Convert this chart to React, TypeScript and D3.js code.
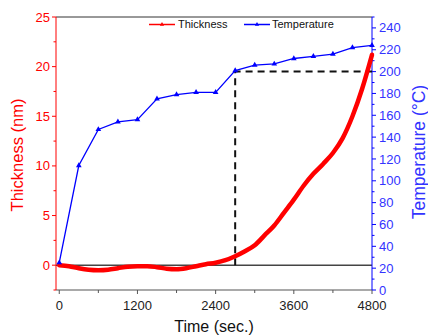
import React from "react";
import * as d3 from "d3";

// Film thickness measured over time (seconds)
const thicknessTimes = [
  0, 150, 300, 450, 600, 750, 900, 1050, 1200, 1350, 1500, 1650, 1800, 1950,
  2100, 2250, 2400, 2550, 2700, 2850, 3000, 3150, 3300, 3450, 3600, 3750,
  3900, 4050, 4200, 4350, 4500, 4650, 4800,
];
const thicknessValues = [
  0.0, -0.1, -0.3, -0.45, -0.5, -0.45, -0.3, -0.15, -0.1, -0.1, -0.2, -0.35,
  -0.4, -0.3, -0.1, 0.1, 0.25, 0.5, 0.9, 1.4, 2.0, 3.0, 4.0, 5.3, 6.6, 8.0,
  9.2, 10.2, 11.3, 12.8, 15.0, 17.8, 21.2,
];

// Substrate temperature readings (°C), one every 300 s
const temperatureTimes = [
  0, 300, 600, 900, 1200, 1500, 1800, 2100, 2400, 2700, 3000, 3300, 3600,
  3900, 4200, 4500, 4800,
];
const temperatureValues = [
  25, 114, 147, 154, 156, 175, 179, 181, 181, 201, 206, 207, 212, 214, 216,
  222, 224,
];

// Axis ticks
const timeTicks = [0, 1200, 2400, 3600, 4800];
const thicknessTicks = [0, 5, 10, 15, 20, 25];
const temperatureTicks = [0, 20, 40, 60, 80, 100, 120, 140, 160, 180, 200, 220, 240];

// Marker for the onset of growth
const markerTime = 2700;
const markerTemperature = 200;

const W = 428;
const H = 336;
const M = { left: 56, right: 372, top: 17, bottom: 290 };
const RED = "#ff0000";
const BLUE = "#0000ff";
const FONT = "'Liberation Sans', Arial, sans-serif";

export default function App() {
  const x = d3.scaleLinear().domain([-50, 4800]).range([M.left, M.right]);
  const yL = d3.scaleLinear().domain([-2.5, 25]).range([M.bottom, M.top]);
  const yR = d3.scaleLinear().domain([0, 250]).range([M.bottom, M.top]);

  const thickLine = d3
    .line<number>()
    .x((_, i) => x(thicknessTimes[i]))
    .y((d) => yL(d))
    .curve(d3.curveMonotoneX)(thicknessValues) as string;

  const tempLine = d3
    .line<number>()
    .x((_, i) => x(temperatureTimes[i]))
    .y((d) => yR(d))(temperatureValues) as string;

  const tri = d3.symbol(d3.symbolTriangle, 14)() as string;
  const triSmall = d3.symbol(d3.symbolTriangle, 8)() as string;

  const minorTime = d3.range(0, 4801, 600);
  const minorThick = d3.range(-2.5, 25.01, 2.5);
  const minorTemp = d3.range(0, 250.01, 10);

  return (
    <svg
      width={W}
      height={H}
      style={{ position: "absolute", left: 0, top: 0, background: "#fff" }}
      fontFamily={FONT}
    >
      {/* frame: top border and bottom axis */}
      <line x1={M.left} x2={M.right} y1={M.top} y2={M.top} stroke="#333" strokeWidth={1} />
      <line x1={M.left} x2={M.right} y1={M.bottom} y2={M.bottom} stroke="#555" strokeWidth={1.2} />
      {/* zero thickness baseline */}
      <line x1={M.left} x2={M.right} y1={yL(0)} y2={yL(0)} stroke="#444" strokeWidth={1.5} />

      {/* bottom ticks */}
      {minorTime.map((t) => (
        <line key={"bt" + t} x1={x(t)} x2={x(t)} y1={M.bottom} y2={M.bottom + (t % 1200 === 0 ? 4 : 3)} stroke="#555" strokeWidth={1} />
      ))}
      {timeTicks.map((t) => (
        <text key={"bl" + t} x={x(t)} y={309.5} textAnchor="middle" fontSize={13} fill="#222">
          {t}
        </text>
      ))}
      <text x={(M.left + M.right) / 2} y={332} textAnchor="middle" fontSize={16} fill="#111">
        Time (sec.)
      </text>

      {/* left axis: thickness */}
      <line x1={M.left} x2={M.left} y1={M.top} y2={M.bottom} stroke={RED} strokeWidth={1} />
      {minorThick.map((v) => (
        <line key={"lt" + v} x1={M.left - (v % 5 === 0 ? 4 : 2.5)} x2={M.left} y1={yL(v)} y2={yL(v)} stroke={RED} strokeWidth={1} />
      ))}
      {thicknessTicks.map((v) => (
        <text key={"ll" + v} x={50} y={yL(v)} dy="0.35em" textAnchor="end" fontSize={13} fill={RED}>
          {v}
        </text>
      ))}
      <text transform={`translate(23,155) rotate(-90)`} textAnchor="middle" fontSize={16.5} fill={RED}>
        Thickness (nm)
      </text>

      {/* right axis: temperature */}
      <line x1={M.right} x2={M.right} y1={M.top} y2={M.bottom} stroke={BLUE} strokeWidth={1} />
      {minorTemp.map((v) => (
        <line key={"rt" + v} x1={M.right} x2={M.right + (v % 20 === 0 ? 4 : 2.5)} y1={yR(v)} y2={yR(v)} stroke={BLUE} strokeWidth={1} />
      ))}
      {temperatureTicks.map((v) => (
        <text key={"rl" + v} x={379} y={yR(v)} dy="0.35em" textAnchor="start" fontSize={13} fill="#3333ff">
          {v}
        </text>
      ))}
      <text transform={`translate(425,152) rotate(-90)`} textAnchor="middle" fontSize={17.5} fill="#3333ff">
        Temperature (°C)
      </text>

      {/* dashed guide at growth onset */}
      <path
        d={`M${x(markerTime)},${yL(0)}V${yR(markerTemperature)}H${M.right}`}
        fill="none"
        stroke="#111"
        strokeWidth={2}
        strokeDasharray="7,5"
      />

      {/* thickness curve */}
      <path d={thickLine} fill="none" stroke={RED} strokeWidth={4.5} strokeLinejoin="round" strokeLinecap="round" />

      {/* temperature series */}
      <path d={tempLine} fill="none" stroke={BLUE} strokeWidth={1.3} />
      {temperatureValues.map((v, i) => (
        <path key={"tm" + i} d={tri} transform={`translate(${x(temperatureTimes[i])},${yR(v)})`} fill={BLUE} />
      ))}

      {/* legend */}
      <g>
        <line x1={149} x2={175} y1={24.5} y2={24.5} stroke={RED} strokeWidth={1.5} />
        <path d={triSmall} transform="translate(162,24.5)" fill={RED} />
        <text x={178} y={24.5} dy="0.35em" fontSize={11} fill="#111">
          Thickness
        </text>
        <line x1={244} x2={270} y1={24.5} y2={24.5} stroke={BLUE} strokeWidth={1.5} />
        <path d={triSmall} transform="translate(257,24.5)" fill={BLUE} />
        <text x={272} y={24.5} dy="0.35em" fontSize={11} fill="#111">
          Temperature
        </text>
      </g>
    </svg>
  );
}
